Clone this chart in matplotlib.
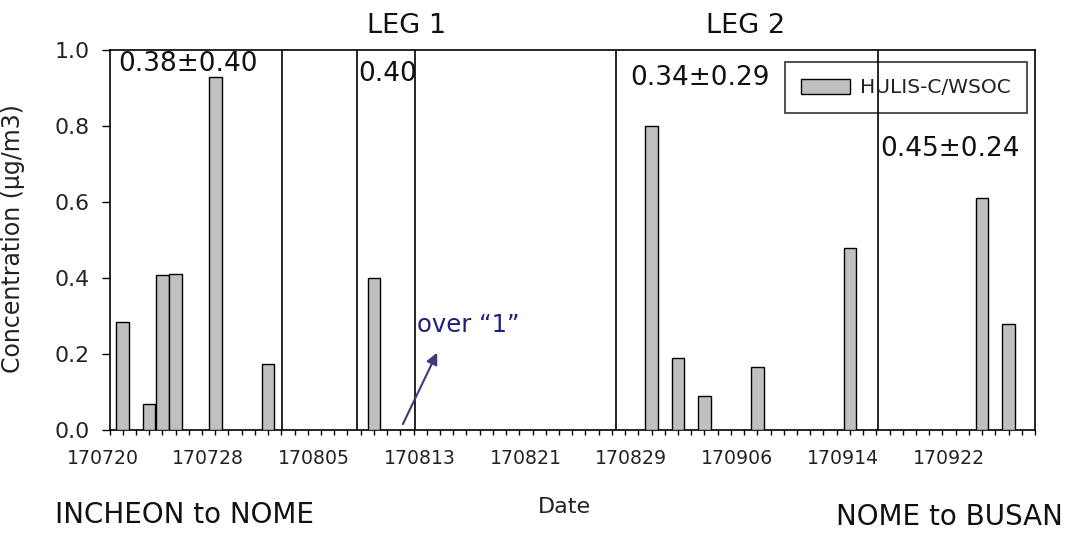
import matplotlib
matplotlib.use("Agg")
import matplotlib.pyplot as plt
from matplotlib.ticker import MultipleLocator, FixedLocator
from matplotlib.transforms import ScaledTranslation

plt.rcParams['font.family'] = ['DejaVu Sans']

# Days since 2017-07-20 (170720)
bar_days = [1, 3, 4, 5, 8, 12, 20, 41, 43, 45, 49, 56, 66, 68]
bar_values = [0.284, 0.068, 0.407, 0.41, 0.93, 0.174, 0.40, 0.80, 0.19, 0.09, 0.166, 0.479, 0.61, 0.28]
divider_days = [13.07, 18.70, 23.11, 38.31, 58.15]
tick_days = [0, 8, 16, 24, 32, 40, 48, 56, 64]
tick_labels = ['170720', '170728', '170805', '170813', '170821', '170829', '170906', '170914', '170922']
yticks = [0.0, 0.2, 0.4, 0.6, 0.8, 1.0]
stat_texts = ['0.38\u00b10.40', '0.40', '0.34\u00b10.29', '0.45\u00b10.24']
stat_pos = [(0.64, 0.963), (18.85, 0.936), (39.35, 0.927), (58.3, 0.740)]
stat_sizes = [19, 19, 19, 19]

fig = plt.figure(figsize=(10.68, 5.33), dpi=100)
ax = fig.add_axes([109.5/1068, 1-430/533, (1035-109.5)/1068, 380/533])

ax.bar(bar_days, bar_values, width=0.95, color='#c0c0c0', edgecolor='black', linewidth=1.0, zorder=3,
       label='HULIS-C/WSOC')
for d in divider_days:
    ax.axvline(d, color='black', linewidth=1.2, zorder=2)

ax.set_xlim(0, 70)
ax.set_ylim(0, 1.0)
ax.xaxis.set_major_locator(FixedLocator(tick_days))
ax.xaxis.set_minor_locator(MultipleLocator(1))
ax.set_xticks(tick_days)
ax.set_xticklabels(tick_labels, fontsize=13.6, color='#222222')
ax.set_yticks(yticks)
ax.set_yticklabels([f'{v:.1f}' for v in yticks], fontsize=15.8, color='#222222')
ax.tick_params(axis='x', which='major', direction='out', length=3.5, width=1, pad=10)
ax.tick_params(axis='x', which='minor', direction='out', length=3.5, width=1)
ax.tick_params(axis='y', which='major', direction='out', length=6, width=1, pad=8.4)
for s in ax.spines.values():
    s.set_linewidth(1.2)

shift = ScaledTranslation(-7/100, 0, fig.dpi_scale_trans)
for lab in ax.get_xticklabels():
    lab.set_transform(lab.get_transform() + shift)

for t, (x, y), fs in zip(stat_texts, stat_pos, stat_sizes):
    ax.text(x, y, t, fontsize=fs, ha='left', va='center', zorder=5, color='#111111')

ax.text(22.45, 1.064, 'LEG 1', fontsize=19.5, ha='center', va='center', clip_on=False, color='#111111')
ax.text(48.1, 1.064, 'LEG 2', fontsize=19.5, ha='center', va='center', clip_on=False, color='#111111')

ax.text(23.26, 0.277, 'over \u201c1\u201d', fontsize=17.5, color='#1f1f7a', ha='left', va='center')
ax.annotate('', xy=(24.87, 0.21), xytext=(22.10, 0.009),
            arrowprops=dict(arrowstyle='-|>', color='#3b3b7d', lw=1.5, mutation_scale=17))

leg = ax.legend(loc='upper right', bbox_to_anchor=(0.991, 0.968), borderaxespad=0,
                fontsize=14.5, frameon=True, fancybox=False, handlelength=2.4, handleheight=0.75,
                handletextpad=0.5, borderpad=0.8)
leg.get_frame().set_edgecolor('black')
leg.get_frame().set_linewidth(1.2)
leg.get_frame().set_facecolor('none')
for txt in leg.get_texts():
    txt.set_color('#222222')

fig.text(13/1068, 1-239/533, 'Concentration (\u00b5g/m3)', fontsize=17, rotation=90,
         ha='center', va='center', color='#222222')
fig.text(564/1068, 1-507/533, 'Date', fontsize=16, ha='center', va='center', color='#222222')
fig.text(55/1068, 1-515/533, 'INCHEON to NOME', fontsize=20, ha='left', va='center', color='#111111')
fig.text(1063/1068, 1-517/533, 'NOME to BUSAN', fontsize=20, ha='right', va='center', color='#111111')

fig.savefig('out.png', dpi=100)
